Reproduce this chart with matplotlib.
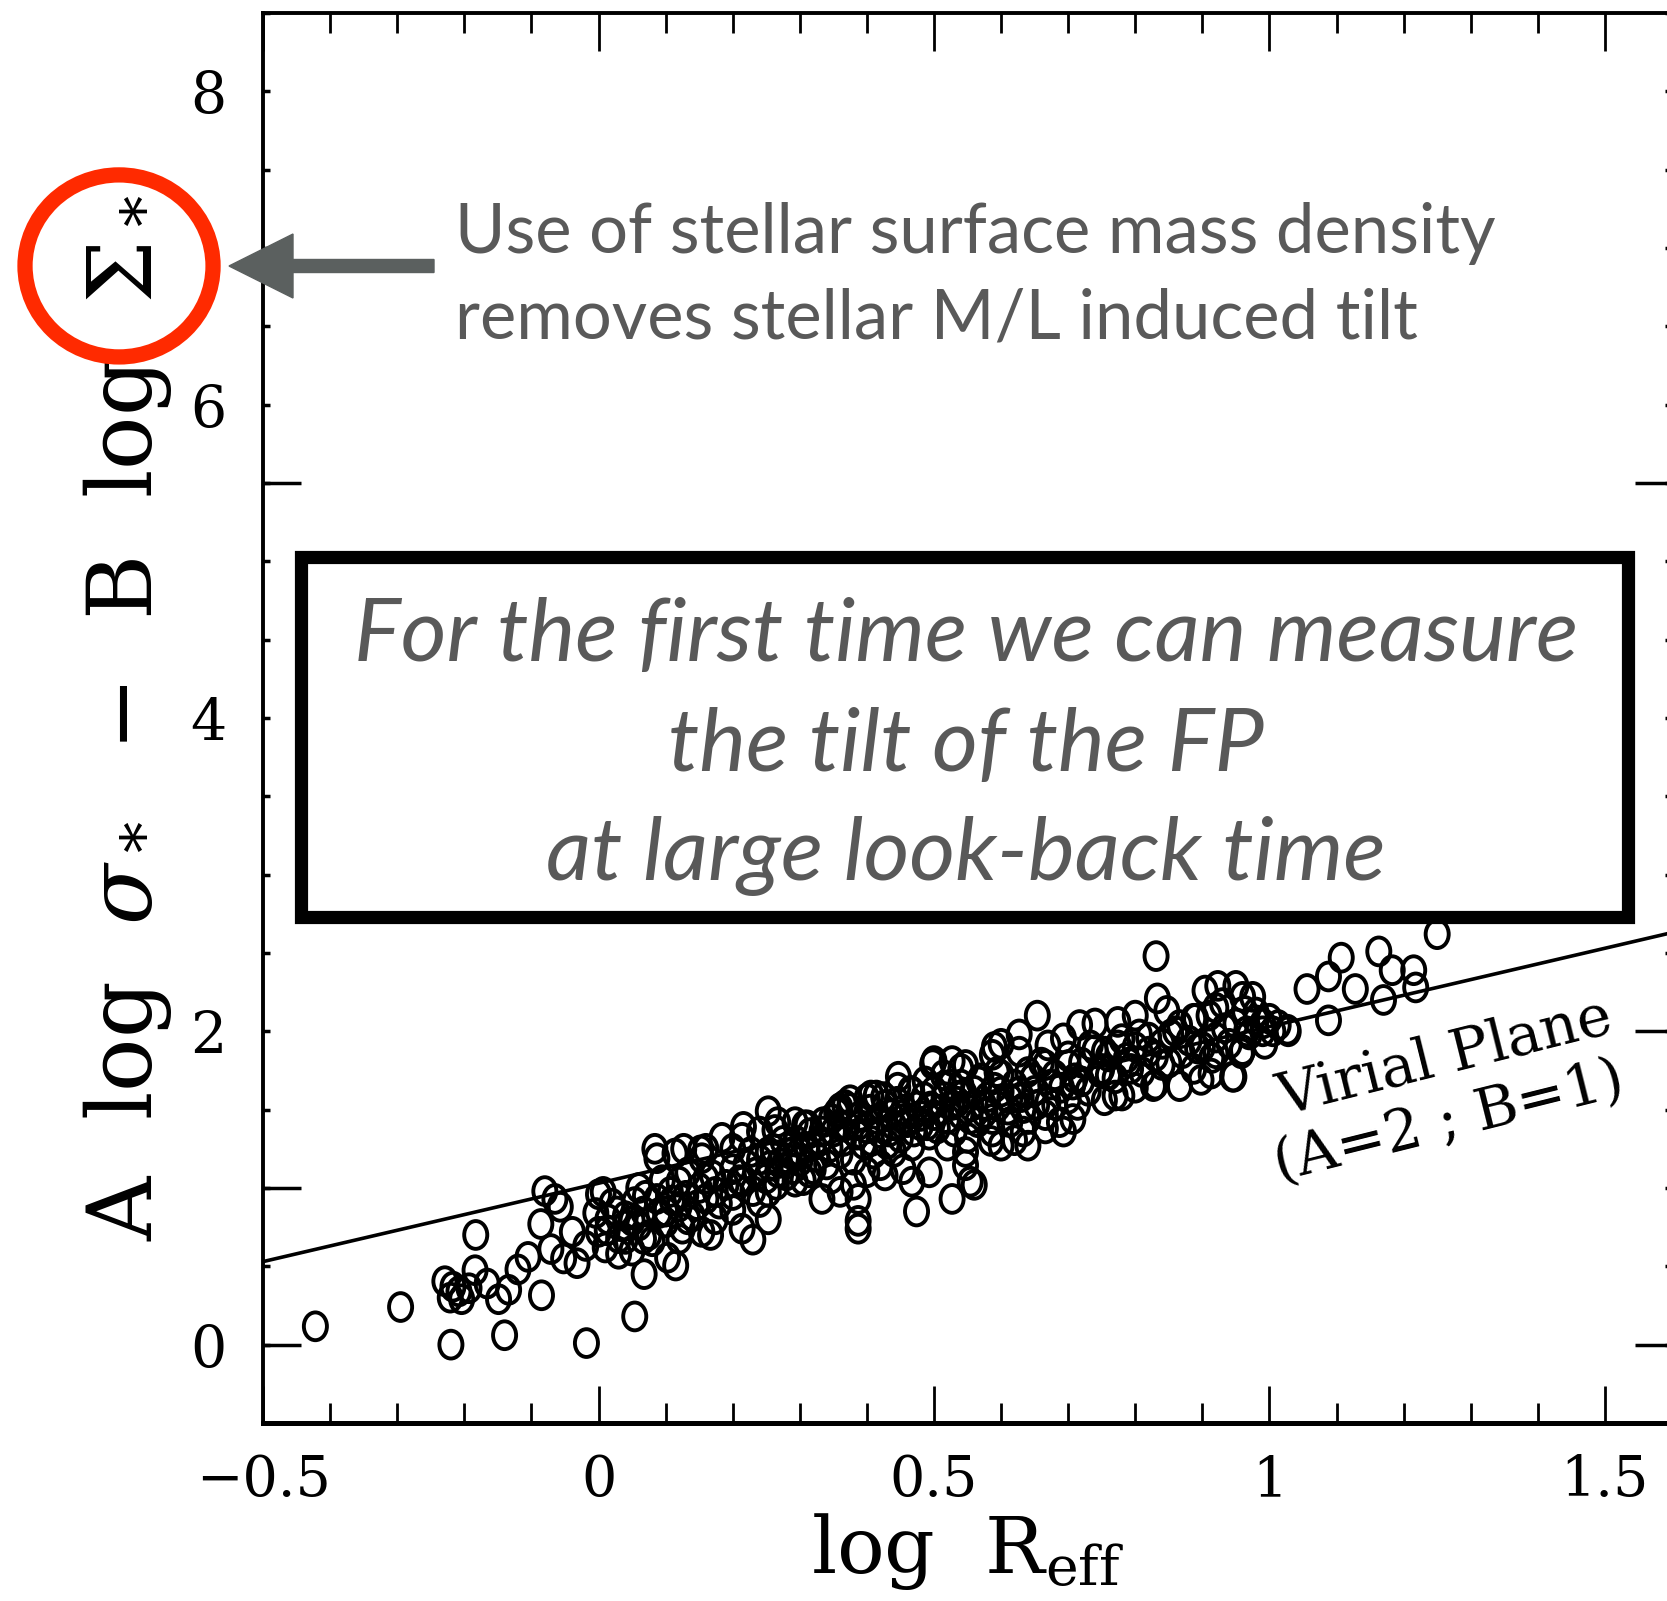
import matplotlib
matplotlib.use('Agg')
import matplotlib.pyplot as plt
from matplotlib.patches import Ellipse, Rectangle, FancyArrow
from matplotlib.path import Path
from matplotlib.transforms import Affine2D
from matplotlib.ticker import MultipleLocator, FixedLocator, FuncFormatter
import matplotlib.patheffects as pe

plt.rcParams['font.family'] = 'DejaVu Serif'
plt.rcParams['mathtext.fontset'] = 'dejavuserif'

# ---- data (log R_eff, A log sigma - B log Sigma) ----
tail_pts = [
    (-0.422, 0.117), (-0.295, 0.24), (-0.22, 0.0), (-0.14, 0.06), (-0.018, 0.01), (0.054, 0.18),
    (-0.183, 0.70), (-0.229, 0.405), (-0.217, 0.37), (-0.204, 0.29), (-0.221, 0.30), (-0.208, 0.34),
    (-0.184, 0.475), (-0.193, 0.36), (-0.166, 0.39), (-0.149, 0.29), (-0.134, 0.35), (-0.12, 0.48),
    (-0.105, 0.56), (-0.086, 0.77), (-0.085, 0.315), (-0.071, 0.61), (-0.057, 0.88), (-0.052, 0.55),
    (-0.039, 0.72), (-0.032, 0.52), (-0.019, 0.63), (-0.004, 0.84), (0.013, 0.73), (0.030, 0.58),
    (0.05, 0.79), (0.068, 0.45), (0.075, 0.70), (0.103, 0.555), (0.115, 0.505), (0.125, 0.74),
    (-0.08, 0.98), (-0.065, 0.93), (0.0, 0.96), (0.0, 0.72), (0.01, 0.62), (0.02, 0.90),
    (0.03, 0.68), (0.04, 0.82), (0.05, 0.60), (0.06, 0.76), (0.07, 0.95), (0.08, 0.66),
    (0.09, 0.84), (0.095, 1.05), (0.06, 1.0), (0.007, 0.975), (0.014, 0.80), (0.027, 0.85),
    (0.04, 0.76), (0.054, 0.91), (0.067, 0.85), (0.084, 1.25), (0.087, 1.19), (0.087, 0.93),
    (0.067, 0.675), (0.04, 0.675), (0.10, 0.85), (0.107, 0.975),
]

mid_pts = [
    (0.447, 1.71), (0.414, 1.59), (0.427, 1.53), (0.467, 1.615), (0.487, 1.68), (0.50, 1.81),
    (0.527, 1.81), (0.547, 1.785), (0.514, 1.72), (0.54, 1.66), (0.567, 1.68), (0.587, 1.85),
    (0.594, 1.74), (0.574, 1.53), (0.554, 1.44), (0.527, 1.53), (0.50, 1.465), (0.48, 1.40),
    (0.454, 1.44), (0.433, 1.36), (0.407, 1.30), (0.387, 1.40), (0.374, 1.51), (0.36, 1.40),
    (0.347, 1.44), (0.367, 1.53), (0.44, 1.23), (0.467, 1.27), (0.493, 1.34), (0.52, 1.27),
    (0.547, 1.23), (0.547, 1.145), (0.554, 1.04), (0.527, 0.93), (0.56, 1.02), (0.474, 0.85),
    (0.467, 1.04), (0.493, 1.10), (0.454, 1.12), (0.427, 1.08), (0.42, 1.145), (0.40, 1.10),
    (0.387, 0.93), (0.387, 0.79), (0.387, 0.74), (0.38, 1.02), (0.36, 0.975), (0.347, 1.06),
    (0.333, 0.93), (0.314, 1.10), (0.293, 1.04), (0.28, 1.19), (0.30, 1.23), (0.32, 1.27),
    (0.333, 1.36), (0.36, 1.51), (0.293, 1.42), (0.267, 1.42), (0.24, 1.36), (0.214, 1.32),
    (0.20, 1.25), (0.227, 1.23), (0.253, 1.23), (0.267, 1.10), (0.253, 0.975), (0.24, 0.91),
    (0.253, 0.80), (0.23, 0.67), (0.20, 0.955), (0.214, 1.04), (0.174, 0.975), (0.16, 1.06),
    (0.147, 0.89), (0.133, 0.80), (0.154, 0.72), (0.167, 0.70), (0.12, 0.675), (0.10, 0.85),
    (0.12, 1.04), (0.133, 1.10), (0.154, 1.19), (0.127, 1.25), (0.16, 1.25), (0.214, 0.74),
    (0.174, 0.80), (0.253, 1.49), (0.307, 1.40), (0.40, 1.57), (0.60, 1.615), (0.627, 1.615),
    (0.647, 1.70), (0.674, 1.66), (0.70, 1.57), (0.714, 1.53), (0.707, 1.66), (0.68, 1.53),
    (0.653, 1.53), (0.633, 1.51), (0.613, 1.57), (0.587, 1.44), (0.587, 1.36), (0.613, 1.42),
    (0.633, 1.36), (0.64, 1.27), (0.666, 1.38), (0.687, 1.42),
]

core_pts = [
    (0.10, 0.78), (0.11, 0.92), (0.12, 0.88), (0.13, 0.95), (0.14, 0.82), (0.15, 1.0),
    (0.16, 0.93), (0.17, 1.08), (0.18, 0.90), (0.19, 1.02), (0.20, 1.12), (0.20, 0.86),
    (0.21, 1.05), (0.22, 1.15), (0.23, 0.98), (0.235, 1.10), (0.24, 1.18), (0.25, 1.06),
    (0.255, 1.14), (0.26, 1.25), (0.265, 1.02), (0.27, 1.16), (0.275, 1.30), (0.28, 1.08),
    (0.285, 1.22), (0.29, 1.12), (0.295, 1.30), (0.30, 1.17), (0.305, 1.05), (0.31, 1.26),
    (0.315, 1.35), (0.32, 1.12), (0.325, 1.20), (0.33, 1.30), (0.335, 1.42), (0.34, 1.15),
    (0.345, 1.26), (0.35, 1.36), (0.355, 1.48), (0.36, 1.22), (0.365, 1.30), (0.37, 1.40),
    (0.375, 1.56), (0.38, 1.18), (0.385, 1.34), (0.39, 1.46), (0.395, 1.28), (0.40, 1.38),
    (0.405, 1.50), (0.41, 1.22), (0.415, 1.44), (0.42, 1.35), (0.425, 1.58), (0.43, 1.28),
    (0.435, 1.47), (0.44, 1.40), (0.445, 1.55), (0.45, 1.32), (0.455, 1.50), (0.46, 1.42),
    (0.465, 1.62), (0.47, 1.36), (0.475, 1.52), (0.48, 1.46), (0.485, 1.58), (0.49, 1.40),
    (0.495, 1.52), (0.50, 1.62), (0.505, 1.38), (0.51, 1.50), (0.515, 1.58), (0.52, 1.44),
    (0.525, 1.66), (0.53, 1.36), (0.535, 1.55), (0.54, 1.47), (0.545, 1.60), (0.55, 1.32),
    (0.555, 1.52), (0.56, 1.62), (0.565, 1.42), (0.57, 1.70), (0.575, 1.48), (0.58, 1.58),
    (0.585, 1.30), (0.59, 1.64), (0.595, 1.52), (0.60, 1.72), (0.61, 1.50), (0.62, 1.66),
    (0.63, 1.58), (0.64, 1.74), (0.65, 1.62), (0.66, 1.80), (0.67, 1.55), (0.68, 1.72),
    (0.69, 1.64), (0.70, 1.84), (0.71, 1.70), (0.72, 1.80), (0.73, 1.62), (0.74, 1.88),
    (0.75, 1.76), (0.76, 1.84), (0.77, 1.70), (0.78, 1.95), (0.79, 1.80), (0.80, 1.90),
    (0.81, 1.74), (0.82, 1.96), (0.83, 1.84), (0.84, 1.92), (0.85, 1.80), (0.86, 2.0),
    (0.87, 1.86), (0.88, 1.94), (0.89, 2.08), (0.90, 1.90), (0.91, 2.1), (0.92, 1.96),
    (0.93, 2.18), (0.94, 1.92), (0.95, 2.05), (0.96, 2.22), (0.97, 1.98), (0.98, 2.12),
    (0.99, 2.0),
]

upper_pts = [
    (0.831, 2.48), (0.654, 2.10), (0.627, 1.98), (0.60, 1.92), (0.67, 1.91), (0.693, 1.955),
    (0.717, 2.04), (0.74, 2.05), (0.774, 2.06), (0.80, 2.10), (0.833, 2.21), (0.847, 2.13),
    (0.904, 2.26), (0.923, 2.29), (0.95, 2.29), (0.975, 2.22), (1.0, 2.08), (1.027, 2.01),
    (0.92, 2.15), (0.963, 2.13), (0.96, 1.88), (0.993, 1.92), (0.92, 1.86), (0.947, 1.71),
    (0.913, 1.73), (0.887, 1.76), (0.866, 1.65), (0.827, 1.65), (0.84, 1.785), (0.78, 1.59),
    (0.754, 1.56), (0.76, 1.72), (0.793, 1.76), (0.754, 1.87), (0.707, 1.44), (0.693, 1.36),
    (0.666, 1.465), (0.64, 1.44), (0.62, 1.305), (0.60, 1.27), (0.627, 1.87), (0.666, 1.785),
    (0.70, 1.785), (0.72, 1.68), (0.733, 1.91), (0.747, 1.74), (0.774, 1.91), (0.787, 1.83),
    (0.806, 1.98), (0.82, 1.87), (0.853, 1.98), (0.866, 2.04), (0.887, 2.08), (0.893, 1.89),
    (0.933, 2.02), (0.966, 2.0), (0.98, 2.07), (1.013, 2.04),
    (0.114, 1.22), (0.152, 1.24), (0.184, 1.32), (0.216, 1.39), (0.263, 1.37), (0.311, 1.40),
    (0.358, 1.49), (0.406, 1.59), (0.446, 1.64), (0.498, 1.79), (0.54, 1.76), (0.59, 1.90),
    (0.77, 1.59), (0.80, 1.64), (0.83, 1.66), (0.898, 1.69), (0.914, 1.83), (0.945, 1.71),
]

bright_pts = [
    (1.028, 2.0), (1.005, 2.0), (0.99, 2.05), (0.958, 1.86), (1.056, 2.27), (1.088, 2.35),
    (1.107, 2.47), (1.088, 2.07), (1.128, 2.27), (1.163, 2.51), (1.183, 2.39), (1.17, 2.2),
    (1.215, 2.39), (1.218, 2.28), (1.25, 2.62),
]

# virial plane (A=2 ; B=1)
virial_x = [-0.5, 1.6]
virial_y = [0.53, 2.63]

xtick_vals = [-0.5, 0, 0.5, 1, 1.5]
ytick_vals = [0, 2, 4, 6, 8]

all_pts = tail_pts + mid_pts + core_pts + upper_pts + bright_pts
gx = [p[0] for p in all_pts]
gy = [p[1] for p in all_pts]

fig = plt.figure(figsize=(16.67, 16.01), dpi=100)
ax = fig.add_axes([0.1578, 0.1112, 0.8452, 0.8807])
ax.set_xlim(-0.5, 1.6)
ax.set_ylim(-0.5, 8.5)

# slightly tall open circles like the original
ring = Affine2D().scale(0.83, 1.0).transform_path(Path.unit_circle())
ax.scatter(gx, gy, s=400, marker=ring, facecolors='none', edgecolors='k',
           linewidths=2.8, zorder=3)
ax.plot(virial_x, virial_y, color='k', lw=2.6, zorder=2)

for s in ax.spines.values():
    s.set_linewidth(2.8)
ax.spines['bottom'].set_linewidth(3.6)

ax.xaxis.set_major_locator(FixedLocator(xtick_vals))
ax.xaxis.set_minor_locator(MultipleLocator(0.1))
ax.xaxis.set_major_formatter(FuncFormatter(lambda v, p: ('%g' % v).replace('-', '\u2212')))
ax.tick_params(axis='x', which='major', direction='in', length=27, width=2,
               top=True, bottom=True, pad=22, labelsize=40)
ax.tick_params(axis='x', which='minor', direction='in', length=14.5, width=2,
               top=True, bottom=True)

ax.yaxis.set_major_locator(FixedLocator(ytick_vals))
ax.yaxis.set_minor_locator(MultipleLocator(0.5))
ax.tick_params(axis='y', which='both', direction='in', length=5, width=2.5,
               left=True, right=True, pad=26, labelsize=41)

# the long ticks of the original y axes
secl = ax.secondary_yaxis('left')
secl.set_ticks([0, 1, 5.5])
secl.tick_params(direction='in', length=27, width=2.5, labelleft=False)
secr = ax.secondary_yaxis('right')
secr.set_ticks([0, 2, 5.5])
secr.tick_params(direction='in', length=27, width=2.5, labelright=False)

ax.set_xlabel(r'log  R$_{\rm eff}$', fontsize=57, labelpad=2)
ax.set_ylabel(r'A  log  $\sigma_*$  $-$  B  log  $\Sigma_*$', fontsize=64, labelpad=12)

ax.text(1.262, 1.83, 'Virial Plane', rotation=14, rotation_mode='anchor',
        ha='center', va='center', fontsize=42, zorder=4)
ax.text(1.268, 1.42, '(A=2 ; B=1)', rotation=14, rotation_mode='anchor',
        ha='center', va='center', fontsize=42, zorder=4)

# slide overlays
grey = '#595959'
fig.text(455 / 1667, 1 - 253 / 1601, 'Use of stellar surface mass density',
         family='Lato', fontsize=49.5, color=grey, va='baseline', ha='left')
fig.text(455 / 1667, 1 - 338 / 1601, 'removes stellar M/L induced tilt',
         family='Lato', fontsize=49.5, color=grey, va='baseline', ha='left')

box = Rectangle((0.1806, 0.4270), 0.7960, 0.2250, transform=fig.transFigure,
                facecolor='white', edgecolor='black', lw=9.5, zorder=5,
                path_effects=[pe.SimplePatchShadow(offset=(4, -4), shadow_rgbFace='gray', alpha=0.35),
                              pe.Normal()])
fig.add_artist(box)
box_lines = ['For the first time we can measure', 'the tilt of the FP', 'at large look-back time']
for line, yb in zip(box_lines, [661, 771, 880]):
    fig.text(966 / 1667, 1 - yb / 1601, line, family='Lato', style='italic',
             fontsize=63.5, color=grey, ha='center', va='baseline', zorder=6)

circ = Ellipse((0.0714, 0.8339), width=0.1128, height=0.1137, transform=fig.transFigure,
               fill=False, edgecolor='#ff2a00', lw=11, zorder=10)
fig.add_artist(circ)

arrow = FancyArrow(4.34, 13.35, -2.05, 0, width=0.13, head_width=0.64, head_length=0.64,
                   length_includes_head=True, color='#5b605f', transform=fig.dpi_scale_trans,
                   zorder=10)
fig.add_artist(arrow)

fig.savefig('out.png', dpi=100)
